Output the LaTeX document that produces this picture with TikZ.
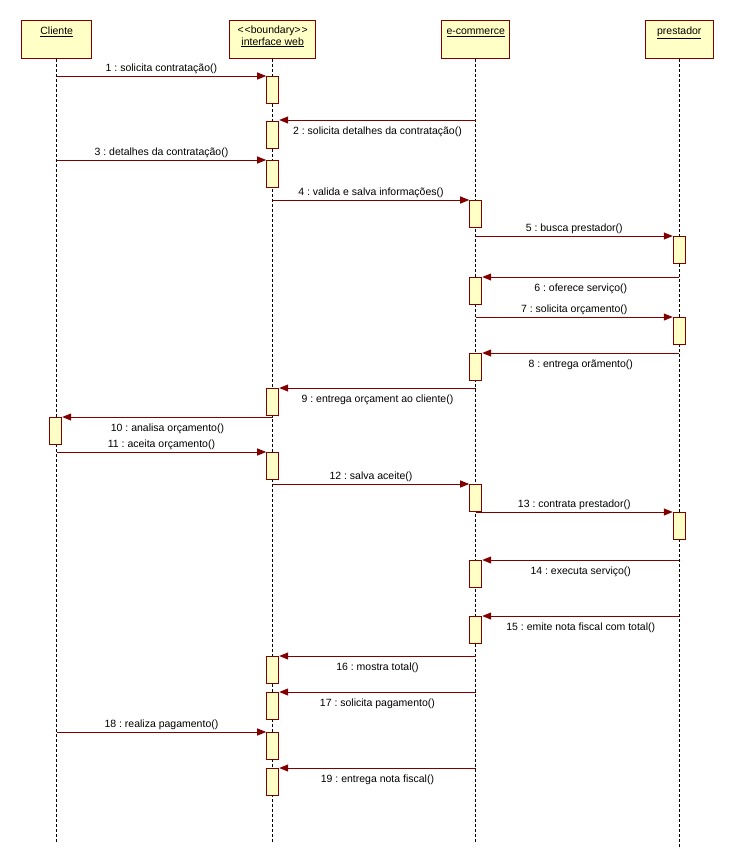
\documentclass[tikz,border=0pt]{standalone}
\usepackage{fontspec}
\setmainfont{Liberation Sans}
\usetikzlibrary{arrows.meta}
\definecolor{umlred}{HTML}{800000}
\definecolor{umlfill}{HTML}{FFFFC6}
\frenchspacing
\begin{document}
\begin{tikzpicture}[x=1pt,y=-1pt,
  font=\fontsize{10.5}{12}\selectfont,
  head/.style={draw=umlred, fill=umlfill, line width=1pt, minimum width=#1,
    minimum height=38pt, inner sep=0pt, anchor=north},
  headtxt/.style={anchor=base, inner sep=0pt},
  life/.style={black, line width=0.8pt, dash pattern=on 3pt off 2pt},
  act/.style={draw=umlred, fill=umlfill, line width=1pt, minimum width=12pt,
    minimum height=27pt, inner sep=0pt, anchor=north},
  msg/.style={umlred, line width=1pt, -{Triangle[length=9pt,width=7pt]}},
  up/.style={anchor=base, inner sep=0pt, yshift=5pt, text=black},
  dn/.style={anchor=base, inner sep=0pt, yshift=-14.5pt, text=black},
]
\fill[white] (0,0) rectangle (733,868);
\useasboundingbox (0,0) rectangle (733,868);

% lifeline positions
\def\xc{56.7}
\def\xi{272.7}
\def\xe{475.7}
\def\xp{679.3}

% object heads
\node[head=70pt] (cli) at (\xc,20) {};
\node[headtxt] (clit) at (\xc,34.5) {\underline{Cliente}};
\node[head=86pt] (web) at (\xi,20) {};
\node[headtxt] (webs) at (\xi,33) {<\kern1pt<boundary>\kern1pt>};
\node[headtxt] (webt) at (\xi,45) {\underline{interface web}};
\node[head=68pt] (eco) at (\xe,20) {};
\node[headtxt] (ecot) at (\xe,34.5) {\underline{e-commerce}};
\node[head=68pt] (pre) at (\xp,20) {};
\node[headtxt] (pret) at (\xp,34.5) {\underline{prestador}};

% lifelines
\coordinate (cliend) at (\xc,843);
\coordinate (webend) at (\xi,843);
\coordinate (ecoend) at (\xe,843);
\coordinate (preend) at (\xp,847);
\draw[life] (cli.south) -- (cliend);
\draw[life] (web.south) -- (webend);
\draw[life] (eco.south) -- (ecoend);
\draw[life] (pre.south) -- (preend);

% activation bars
\node[act] (i1)  at (\xi,76)  {};
\node[act] (i2)  at (\xi,121) {};
\node[act] (i3)  at (\xi,160) {};
\node[act] (e4)  at (\xe,200) {};
\node[act] (p5)  at (\xp,236) {};
\node[act] (e6)  at (\xe,277) {};
\node[act] (p7)  at (\xp,317) {};
\node[act] (e8)  at (\xe,353) {};
\node[act] (i9)  at (\xi,388) {};
\node[act] (c10) at (\xc-1,417) {};
\node[act] (i11) at (\xi,452) {};
\node[act] (e12) at (\xe,484) {};
\node[act] (p13) at (\xp,512) {};
\node[act] (e14) at (\xe,560) {};
\node[act] (e15) at (\xe,616) {};
\node[act] (i16) at (\xi,656) {};
\node[act] (i17) at (\xi,692) {};
\node[act] (i18) at (\xi,732) {};
\node[act] (i19) at (\xi,768) {};

% message start points on the lifelines
\coordinate (m1)  at (\xc,76);
\coordinate (m2)  at (\xe,120);
\coordinate (m3)  at (\xc,160);
\coordinate (m4)  at (\xi,200);
\coordinate (m5)  at (\xe,236);
\coordinate (m6)  at (\xp,277);
\coordinate (m7)  at (\xe,317);
\coordinate (m8)  at (\xp,353);
\coordinate (m9)  at (\xe,388);
\coordinate (m10) at (\xi,417);
\coordinate (m11) at (\xc,452);
\coordinate (m12) at (\xi,484);
\coordinate (m13) at (\xe,512);
\coordinate (m14) at (\xp,560);
\coordinate (m15) at (\xp,616);
\coordinate (m16) at (\xe,656);
\coordinate (m17) at (\xe,692);
\coordinate (m18) at (\xc,732);
\coordinate (m19) at (\xe,768);

% messages
\draw[msg] (m1)  -- (m1 -| i1.west)   node[up,midway] {1 : solicita contratação()};
\draw[msg] (m2)  -- (m2 -| i2.east)   node[dn,midway] {2 : solicita detalhes da contratação()};
\draw[msg] (m3)  -- (m3 -| i3.west)   node[up,midway] {3 : detalhes da contratação()};
\draw[msg] (m4)  -- (m4 -| e4.west)   node[up,midway] {4 : valida e salva informações()};
\draw[msg] (m5)  -- (m5 -| p5.west)   node[up,midway] {5 : busca prestador()};
\draw[msg] (m6)  -- (m6 -| e6.east)   node[dn,midway] {6 : oferece serviço()};
\draw[msg] (m7)  -- (m7 -| p7.west)   node[up,midway] {7 : solicita orçamento()};
\draw[msg] (m8)  -- (m8 -| e8.east)   node[dn,midway] {8 : entrega orãmento()};
\draw[msg] (m9)  -- (m9 -| i9.east)   node[dn,midway] {9 : entrega orçament ao cliente()};
\draw[msg] (m10) -- (m10 -| c10.east) node[dn,midway] {10 : analisa orçamento()};
\draw[msg] (m11) -- (m11 -| i11.west) node[up,midway] {11 : aceita orçamento()};
\draw[msg] (m12) -- (m12 -| e12.west) node[up,midway] {12 : salva aceite()};
\draw[msg] (m13) -- (m13 -| p13.west) node[up,midway] {13 : contrata prestador()};
\draw[msg] (m14) -- (m14 -| e14.east) node[dn,midway] {14 : executa serviço()};
\draw[msg] (m15) -- (m15 -| e15.east) node[dn,midway] {15 : emite nota fiscal com total()};
\draw[msg] (m16) -- (m16 -| i16.east) node[dn,midway] {16 : mostra total()};
\draw[msg] (m17) -- (m17 -| i17.east) node[dn,midway] {17 : solicita pagamento()};
\draw[msg] (m18) -- (m18 -| i18.west) node[up,midway] {18 : realiza pagamento()};
\draw[msg] (m19) -- (m19 -| i19.east) node[dn,midway] {19 : entrega nota fiscal()};
\end{tikzpicture}
\end{document}
